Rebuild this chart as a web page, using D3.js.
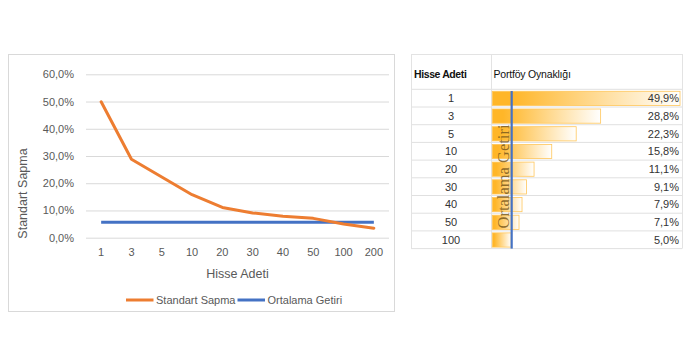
<!DOCTYPE html>
<html><head><meta charset="utf-8">
<script src="https://cdn.jsdelivr.net/npm/d3@7"></script>
<style>
html,body{margin:0;padding:0;background:#fff;}
svg{display:block;font-family:"Liberation Sans",Arial,sans-serif;}
</style></head>
<body>
<svg id="c" width="690" height="356"></svg>
<script>
// ---- data ----
const categories = ["1","3","5","10","20","30","40","50","100","200"];
const stdDev = [49.9, 28.8, 22.3, 15.8, 11.1, 9.1, 7.9, 7.1, 5.0, 3.5];
const avgReturn = [5.7, 5.7, 5.7, 5.7, 5.7, 5.7, 5.7, 5.7, 5.7, 5.7];
const yTicks = [0, 10, 20, 30, 40, 50, 60];
const seriesNames = ["Standart Sapma", "Ortalama Getiri"];

const tableShares = ["1","3","5","10","20","30","40","50","100"];
const tableVol = [49.9, 28.8, 22.3, 15.8, 11.1, 9.1, 7.9, 7.1, 5.0];
const tableAvgLine = 5.15;
const tableHeaders = ["Hisse Adeti", "Portföy Oynaklığı"];
const tableLineLabel = "Ortalama Getiri";

const loc = d3.formatLocale({decimal: ",", thousands: ".", grouping: [3], currency: ["", ""]});
const fmt = v => loc.format(".1f")(v) + "%";

const svg = d3.select("#c");
const ORANGE = "#ED7D31", BLUE = "#4472C4", GRID = "#D9D9D9", TXT = "#595959";

// ---- left chart ----
svg.append("rect").attr("x", 8.5).attr("y", 54.5).attr("width", 386).attr("height", 257)
  .attr("fill", "#fff").attr("stroke", GRID);

const x = d3.scaleBand().domain(categories).range([86, 389]);
const y = d3.scaleLinear().domain([0, 60]).range([237.7, 74.3]);

const gy = svg.append("g").attr("transform", "translate(86,0)")
  .call(d3.axisLeft(y).tickValues(yTicks).tickSize(-303).tickFormat(d => fmt(d)).tickPadding(12));
gy.select(".domain").remove();
gy.selectAll(".tick line").attr("stroke", GRID);
gy.selectAll(".tick text").attr("fill", TXT).attr("font-size", 11).attr("font-family", null);

const gx = svg.append("g").attr("transform", "translate(0,237.7)")
  .call(d3.axisBottom(x).tickSize(0).tickPadding(11));
gx.select(".domain").remove();
gx.selectAll(".tick text").attr("fill", TXT).attr("font-size", 11);
gy.attr("font-family", null); gx.attr("font-family", null);

const line = d3.line().x((d, i) => x(categories[i]) + x.bandwidth() / 2).y(d => y(d));
svg.append("path").datum(avgReturn).attr("d", line).attr("fill", "none")
  .attr("stroke", BLUE).attr("stroke-width", 3);
svg.append("path").datum(stdDev).attr("d", line).attr("fill", "none")
  .attr("stroke", ORANGE).attr("stroke-width", 3).attr("stroke-linejoin", "round").attr("stroke-linecap", "round");

svg.append("text").attr("x", 237.5).attr("y", 277.5).attr("text-anchor", "middle")
  .attr("fill", TXT).attr("font-size", 12.5).text("Hisse Adeti");
svg.append("text").attr("transform", "translate(27,193.5) rotate(-90)").attr("text-anchor", "middle")
  .attr("fill", TXT).attr("font-size", 12.5).text("Standart Sapma");

// legend
const legend = [
  {name: seriesNames[0], color: ORANGE, x1: 126, x2: 153.5, tx: 156},
  {name: seriesNames[1], color: BLUE, x1: 237.5, x2: 265, tx: 267.5}
];
legend.forEach(l => {
  svg.append("line").attr("x1", l.x1).attr("x2", l.x2).attr("y1", 300).attr("y2", 300)
    .attr("stroke", l.color).attr("stroke-width", 3);
  svg.append("text").attr("x", l.tx).attr("y", 304).attr("fill", TXT).attr("font-size", 11).text(l.name);
});

// ---- right table ----
const tL = 411, tM = 491, tR = 682, tTop = 54, hBot = 89.3, rowH = 17.7;
const rows = d3.scaleBand().domain(tableShares).range([hBot, hBot + rowH * tableShares.length]);
const bx = d3.scaleLinear().domain([0, d3.max(tableVol)]).range([492.3, 680]);

const defs = svg.append("defs");
const grad = defs.append("linearGradient").attr("id", "gb").attr("x1", 0).attr("x2", 1).attr("y1", 0).attr("y2", 0);
grad.append("stop").attr("offset", 0).attr("stop-color", "#FFB628");
grad.append("stop").attr("offset", 0.1).attr("stop-color", "#FFB628");
grad.append("stop").attr("offset", 1).attr("stop-color", "#FFFFFF");

const tb = svg.append("g");
tb.append("line").attr("x1", tL).attr("x2", tR).attr("y1", tTop + 0.5).attr("y2", tTop + 0.5).attr("stroke", "#E3E3E3");
tb.selectAll("line.h").data(d3.range(tableShares.length + 1)).join("line")
  .attr("x1", tL).attr("x2", tR)
  .attr("y1", i => hBot + i * rowH).attr("y2", i => hBot + i * rowH)
  .attr("stroke", "#E0E0E0");
[tL, tM, tR].forEach(xx => tb.append("line").attr("x1", xx + 0.5).attr("x2", xx + 0.5)
  .attr("y1", tTop).attr("y2", hBot + rowH * tableShares.length).attr("stroke", "#E3E3E3"));

// headers
tb.append("text").attr("x", 414).attr("y", 77.5).attr("font-size", 10.5).attr("fill", "#111")
  .attr("font-weight", 600).attr("letter-spacing", -0.4).text(tableHeaders[0]);
tb.append("text").attr("x", 493.5).attr("y", 77.5).attr("font-size", 10.5).attr("fill", "#111")
  .attr("letter-spacing", -0.2).text(tableHeaders[1]);

// bars
tb.selectAll("rect.bar").data(tableVol).join("rect")
  .attr("x", bx(0)).attr("y", (d, i) => rows(tableShares[i]) + 2)
  .attr("width", d => bx(d) - bx(0)).attr("height", rowH - 3.5)
  .attr("fill", "url(#gb)").attr("stroke", "#FFC65A").attr("stroke-width", 0.8);

// labels
tb.selectAll("text.n").data(tableShares).join("text")
  .attr("x", (tL + tM) / 2).attr("y", d => rows(d) + rowH / 2 + 4)
  .attr("text-anchor", "middle").attr("font-size", 11).attr("fill", "#333").text(d => d);
tb.selectAll("text.v").data(tableVol).join("text")
  .attr("x", 679).attr("y", (d, i) => rows(tableShares[i]) + rowH / 2 + 4)
  .attr("text-anchor", "end").attr("font-size", 11).attr("fill", "#333").text(d => fmt(d));

// Ortalama Getiri annotation
tb.append("text").attr("transform", "translate(508.5,176.5) rotate(-90)").attr("text-anchor", "middle")
  .style("font-family", "'Liberation Serif','Times New Roman',serif").attr("font-size", 16.5)
  .attr("fill", "#7A5A1C").attr("fill-opacity", 0.85).text(tableLineLabel);
tb.append("line").attr("x1", bx(tableAvgLine)).attr("x2", bx(tableAvgLine))
  .attr("y1", 91).attr("y2", hBot + rowH * tableShares.length)
  .attr("stroke", BLUE).attr("stroke-width", 2.2);
</script>
</body></html>
